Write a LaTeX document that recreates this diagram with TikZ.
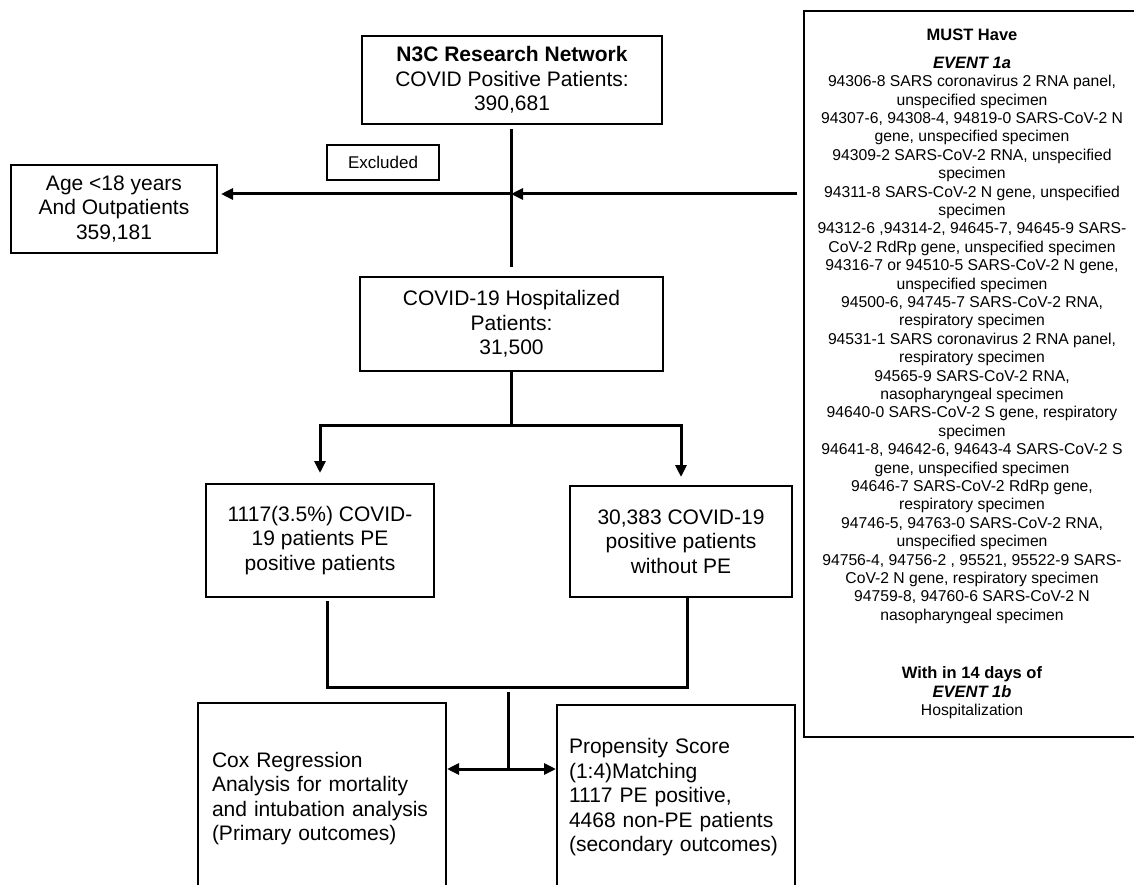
\documentclass[tikz,border=0pt]{standalone}
\usepackage{fontspec}
\setmainfont{Liberation Sans}
\usetikzlibrary{arrows.meta}
\begin{document}
\begin{tikzpicture}[x=1pt,y=-1pt,
  box/.style={draw, line width=2pt, align=center, inner sep=0pt, font=\fontsize{21}{24.5}\selectfont},
  conn/.style={line width=3pt},
  tip/.tip={Triangle[length=12pt,width=11pt]},
  arr/.style={conn, -tip},
]
\path[use as bounding box, fill=white] (0,0) rectangle (1134,885);

% nodes
\node[box, minimum width=300pt, minimum height=88pt] (n3c) at (512,80)
  {\textbf{N3C Research Network}\\COVID Positive Patients:\\390,681};
\node[box, minimum width=303pt, minimum height=94pt] (hosp) at (511.5,324)
  {COVID-19 Hospitalized\\Patients:\\31,500};
\node[box, font=\fontsize{17}{20}\selectfont, minimum width=112pt, minimum height=35pt] (excl) at (383,162.5) {Excluded};
\node[box, minimum width=206pt, minimum height=88pt] (age) at (114,209)
  {Age <18 years\\And Outpatients\\359,181};
\node[box, minimum width=228pt, minimum height=113pt] (pe) at (320,540.5)
  {1117(3.5\%) COVID-\\19 patients PE\\positive patients};
\node[box, minimum width=222pt, minimum height=111pt] (nope) at (681,541.5)
  {30,383 COVID-19\\positive patients\\without PE};
\node[box, align=left, text width=220pt, inner xsep=14pt, minimum height=191pt] (cox) at (322,798.5)
  {Cox Regression\\Analysis for mortality\\and intubation analysis\\(Primary outcomes)};
\node[box, align=left, text width=214pt, inner xsep=12pt, minimum height=185pt] (prop) at (676,797.5)
  {Propensity Score\\(1:4)Matching\\1117 PE positive,\\4468 non-PE patients\\(secondary outcomes)};
\node[box, font=\fontsize{15.7}{18.4}\selectfont, minimum width=336pt, minimum height=726pt] (must) at (972,374)
  {{\bfseries\fontsize{16.5}{18.4}\selectfont MUST Have}\\[9pt]
   {\bfseries\itshape\fontsize{16.5}{18.4}\selectfont EVENT 1a}\\
   94306-8 SARS coronavirus 2 RNA panel,\\
   unspecified specimen\\
   94307-6, 94308-4, 94819-0 SARS-CoV-2 N\\
   gene, unspecified specimen\\
   94309-2 SARS-CoV-2 RNA, unspecified\\
   specimen\\
   94311-8 SARS-CoV-2 N gene, unspecified\\
   specimen\\
   94312-6 ,94314-2, 94645-7, 94645-9 SARS-\\
   CoV-2 RdRp gene, unspecified specimen\\
   94316-7 or 94510-5 SARS-CoV-2 N gene,\\
   unspecified specimen\\
   94500-6, 94745-7 SARS-CoV-2 RNA,\\
   respiratory specimen\\
   94531-1 SARS coronavirus 2 RNA panel,\\
   respiratory specimen\\
   94565-9 SARS-CoV-2 RNA,\\
   nasopharyngeal specimen\\
   94640-0 SARS-CoV-2 S gene, respiratory\\
   specimen\\
   94641-8, 94642-6, 94643-4 SARS-CoV-2 S\\
   gene, unspecified specimen\\
   94646-7 SARS-CoV-2 RdRp gene,\\
   respiratory specimen\\
   94746-5, 94763-0 SARS-CoV-2 RNA,\\
   unspecified specimen\\
   94756-4, 94756-2 , 95521, 95522-9 SARS-\\
   CoV-2 N gene, respiratory specimen\\
   94759-8, 94760-6 SARS-CoV-2 N\\
   nasopharyngeal specimen\\[40pt]
   {\bfseries\fontsize{16.5}{18.4}\selectfont With in 14 days of}\\
   {\bfseries\itshape\fontsize{16.5}{18.4}\selectfont EVENT 1b}\\
   Hospitalization};

% coordinates for junctions
\coordinate (j1) at (511,194);
\coordinate (fL) at (320,425);
\coordinate (fR) at (681,425);
\coordinate (mL) at (327,687);
\coordinate (mR) at (687,687);
\coordinate (m) at (508,687);
\coordinate (b) at (508,769);

% connectors
\draw[conn, shorten <=4pt, shorten >=9pt] (n3c.south -| j1) -- (hosp.north -| j1);
\draw[arr, shorten <=6pt] (must.west |- j1) -- (j1);
\draw[arr, shorten >=3pt] (j1) -- (age.east |- j1);

\draw[conn] (hosp.south -| j1) -- (j1 |- fL);
\draw[arr, shorten >=10pt] (fR) -- (fL) -- (pe.north);
\draw[arr, shorten >=8pt] (fL) -- (fR) -- (nope.north);

\draw[conn, shorten <=3pt] (pe.south -| mL) -- (mL) -- (mR) -- (nope.south -| mR);
\draw[conn, shorten <=5pt] (m) -- (b);
\draw[conn, tip-tip] (cox.east |- b) -- (prop.west |- b);
\end{tikzpicture}
\end{document}
